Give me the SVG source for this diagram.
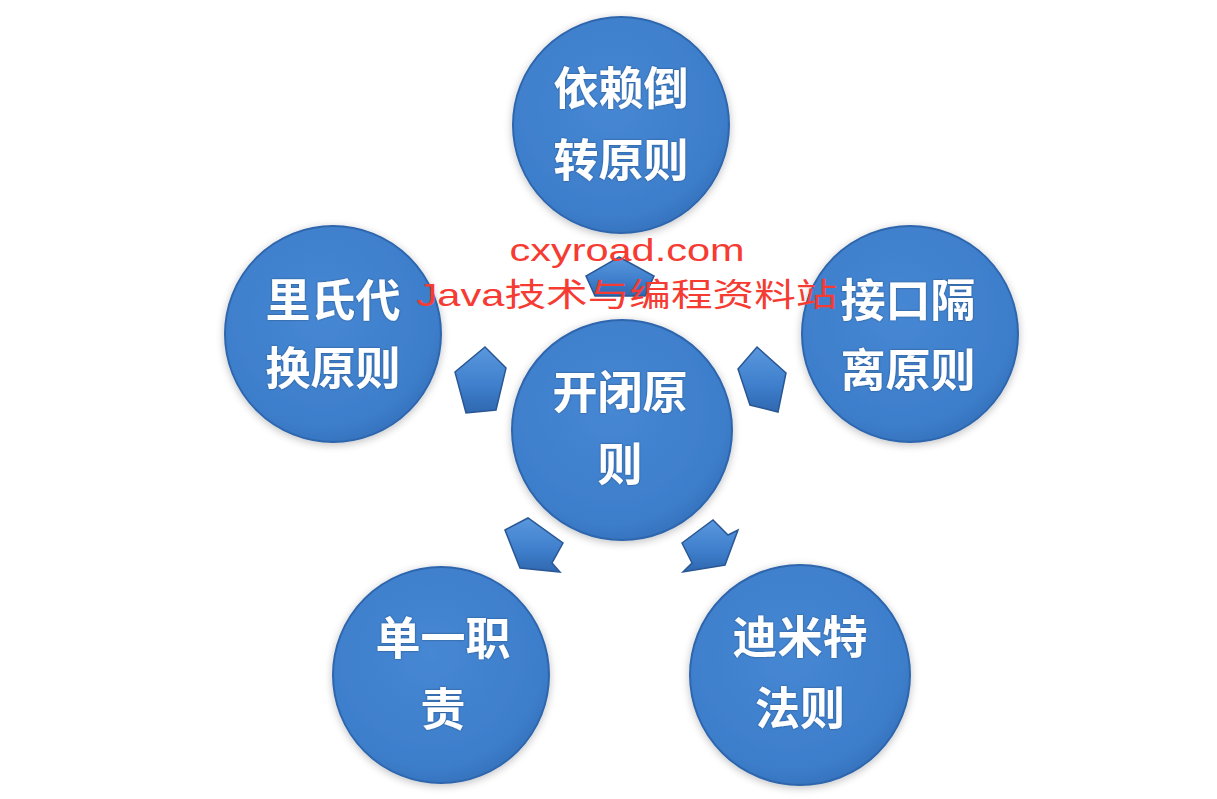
<svg xmlns="http://www.w3.org/2000/svg" width="1217" height="799" viewBox="0 0 1217 799">
<style>
.lbl{font-family:"Noto Sans CJK SC","Noto Sans",sans-serif;font-weight:700;font-size:45px;fill:#ffffff;text-anchor:middle}
.ball{fill:url(#ballGrad);stroke:#2f66ad;stroke-width:2;filter:url(#soft)}
.arr{fill:url(#arrGrad);stroke:#2a5794;stroke-width:1.5;stroke-linejoin:miter}
.wm{font-family:"Liberation Sans","Noto Sans CJK SC",sans-serif;font-size:32px;fill:#f53b32;text-anchor:middle}
</style>
<defs>
<radialGradient id="ballGrad" cx="0.45" cy="0.4" r="0.65">
<stop offset="0" stop-color="#4687d3"/>
<stop offset="0.8" stop-color="#3d7ecb"/>
<stop offset="1" stop-color="#336fb9"/>
</radialGradient>
<linearGradient id="arrGrad" x1="0" y1="0" x2="0" y2="1">
<stop offset="0" stop-color="#5a98de"/>
<stop offset="0.6" stop-color="#3e7ecb"/>
<stop offset="1" stop-color="#2f68b0"/>
</linearGradient>
<filter id="soft" x="-20%" y="-20%" width="140%" height="140%">
<feGaussianBlur in="SourceAlpha" stdDeviation="4"/>
<feOffset dx="0" dy="2" result="b"/>
<feComponentTransfer><feFuncA type="linear" slope="0.25"/></feComponentTransfer>
<feMerge><feMergeNode/><feMergeNode in="SourceGraphic"/></feMerge>
</filter>
<filter id="tsh" x="-10%" y="-10%" width="120%" height="120%">
<feGaussianBlur in="SourceAlpha" stdDeviation="1"/>
<feComponentTransfer><feFuncA type="linear" slope="0.4"/></feComponentTransfer>
<feMerge><feMergeNode/><feMergeNode in="SourceGraphic"/></feMerge>
</filter>
</defs>
<rect width="1217" height="799" fill="#ffffff"/>
<g id="connectors">
<polygon class="arr" points="619,257 654,276 645,296 595,296 586,276"/>
<polygon class="arr" points="485,347 506,368 496,410 466,413 455,372"/>
<polygon class="arr" points="738,369 757,347 786,373 778,412 750,405"/>
<polygon class="arr" points="505,530 528,518 563,543 552,563 560,572 520,568"/>
<polygon class="arr" points="682,543 713,520 728,535 738,530 725,565 683,572 692,563"/>
</g>
<g id="node-top">
<circle class="ball" cx="621" cy="125" r="108"/>
<text class="lbl" filter="url(#tsh)" x="621" y="105">依赖倒</text>
<text class="lbl" filter="url(#tsh)" x="621" y="177">转原则</text>
</g>
<g id="node-left">
<circle class="ball" cx="333" cy="334" r="108"/>
<text class="lbl" filter="url(#tsh)" x="333" y="317">里氏代</text>
<text class="lbl" filter="url(#tsh)" x="333" y="385">换原则</text>
</g>
<g id="node-right">
<circle class="ball" cx="910" cy="334" r="108"/>
<text class="lbl" filter="url(#tsh)" x="908" y="317">接口隔</text>
<text class="lbl" filter="url(#tsh)" x="908" y="387">离原则</text>
</g>
<g id="node-center">
<circle class="ball" cx="622" cy="430" r="110"/>
<text class="lbl" filter="url(#tsh)" x="620" y="409">开闭原</text>
<text class="lbl" filter="url(#tsh)" x="620" y="481">则</text>
</g>
<g id="node-bottom-left">
<circle class="ball" cx="441" cy="675" r="108"/>
<text class="lbl" filter="url(#tsh)" x="443" y="655">单一职</text>
<text class="lbl" filter="url(#tsh)" x="443" y="726">责</text>
</g>
<g id="node-bottom-right">
<circle class="ball" cx="800" cy="675" r="110"/>
<text class="lbl" filter="url(#tsh)" x="800" y="654">迪米特</text>
<text class="lbl" filter="url(#tsh)" x="800" y="725">法则</text>
</g>
<g id="watermark">
<text class="wm" x="627" y="261" textLength="235" lengthAdjust="spacingAndGlyphs">cxyroad.com</text>
<text class="wm" x="627" y="306" textLength="421" lengthAdjust="spacingAndGlyphs">Java技术与编程资料站</text>
</g>
</svg>
